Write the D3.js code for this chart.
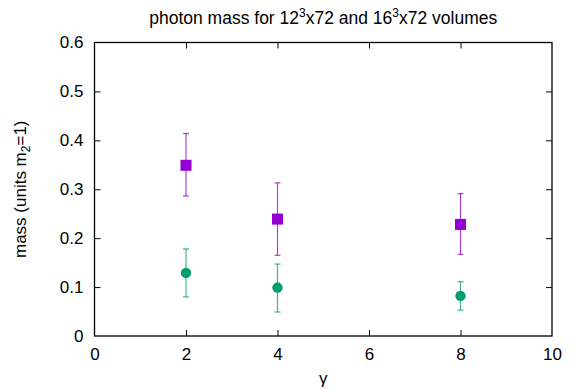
<!DOCTYPE html>
<html>
<head>
<meta charset="utf-8">
<script src="https://cdn.jsdelivr.net/npm/d3@7"></script>
<style>
  body { margin: 0; background: #fff; }
  text { font-family: "Liberation Sans", Arial, sans-serif; fill: #000; }
</style>
</head>
<body>
<div id="chart"></div>
<script>
// data
const gammas = [2, 4, 8];
const mass12 = [0.349, 0.239, 0.228];
const lo12 = [0.286, 0.165, 0.167];
const hi12 = [0.414, 0.313, 0.291];
const mass16 = [0.129, 0.099, 0.082];
const lo16 = [0.080, 0.049, 0.053];
const hi16 = [0.178, 0.147, 0.111];
const xTicks = [0, 2, 4, 6, 8, 10];
const yTicks = [0, 0.1, 0.2, 0.3, 0.4, 0.5, 0.6];

const width = 574, height = 392;
const margin = {top: 42.5, right: 22, bottom: 56, left: 94.5};
const fontSize = 17;

const svg = d3.select("#chart")
  .append("svg")
    .attr("width", width)
    .attr("height", height);

const x = d3.scaleLinear()
  .domain([0, 10])
  .range([margin.left, width - margin.right]);
const y = d3.scaleLinear()
  .domain([0, 0.6])
  .range([height - margin.bottom, margin.top]);

const tickLen = 6;

// ticks drawn inward on all four sides (gnuplot style)
const xAxisB = d3.axisBottom(x).tickValues(xTicks).tickSize(-tickLen).tickPadding(12).tickFormat(d3.format("d"));
const xAxisT = d3.axisTop(x).tickValues(xTicks).tickSize(-tickLen).tickFormat("");
const yAxisL = d3.axisLeft(y).tickValues(yTicks).tickSize(-tickLen).tickPadding(11).tickFormat(d => d === 0 ? "0" : d3.format(".1f")(d));
const yAxisR = d3.axisRight(y).tickValues(yTicks).tickSize(-tickLen).tickFormat("");

const styleAxis = g => {
  g.select(".domain").remove();
  g.selectAll("line").attr("stroke", "#000");
  g.selectAll("text").attr("font-size", fontSize);
};

svg.append("g")
  .attr("transform", `translate(0,${y(0)})`)
  .call(xAxisB).call(styleAxis)
  .selectAll(".tick").filter(d => d === 0 || d === 10).select("line").remove();
svg.append("g")
  .attr("transform", `translate(0,${y(0.6)})`)
  .call(xAxisT).call(styleAxis)
  .selectAll(".tick").filter(d => d === 0 || d === 10).select("line").remove();
svg.append("g")
  .attr("transform", `translate(${x(0)},0)`)
  .call(yAxisL).call(styleAxis)
  .selectAll(".tick").filter(d => d === 0 || d === 0.6).select("line").remove();
svg.append("g")
  .attr("transform", `translate(${x(10)},0)`)
  .call(yAxisR).call(styleAxis)
  .selectAll(".tick").filter(d => d === 0 || d === 0.6).select("line").remove();

// frame
svg.append("rect")
  .attr("x", x(0))
  .attr("y", y(0.6))
  .attr("width", x(10) - x(0))
  .attr("height", y(0) - y(0.6))
  .attr("fill", "none")
  .attr("stroke", "#000")
  .attr("stroke-width", 1.3);

// error bars + points
const drawSeries = (vals, lo, hi, color, shape) => {
  const rows = gammas.map((g, i) => ({g, v: vals[i], lo: lo[i], hi: hi[i]}));
  const grp = svg.append("g");
  const bars = grp.append("g")
    .attr("stroke", color)
    .attr("stroke-width", 1.2)
    .attr("stroke-opacity", 0.75);
  bars.selectAll(".v").data(rows).join("line")
    .attr("x1", d => x(d.g)).attr("x2", d => x(d.g))
    .attr("y1", d => y(d.lo)).attr("y2", d => y(d.hi));
  bars.selectAll(".t").data(rows).join("line")
    .attr("x1", d => x(d.g) - 3).attr("x2", d => x(d.g) + 3)
    .attr("y1", d => y(d.hi)).attr("y2", d => y(d.hi));
  bars.selectAll(".b").data(rows).join("line")
    .attr("x1", d => x(d.g) - 3).attr("x2", d => x(d.g) + 3)
    .attr("y1", d => y(d.lo)).attr("y2", d => y(d.lo));
  if (shape === "square") {
    grp.selectAll("rect").data(rows).join("rect")
      .attr("x", d => x(d.g) - 5.5)
      .attr("y", d => y(d.v) - 5.5)
      .attr("width", 11)
      .attr("height", 11)
      .attr("fill", color);
  } else {
    grp.selectAll("circle").data(rows).join("circle")
      .attr("cx", d => x(d.g))
      .attr("cy", d => y(d.v))
      .attr("r", 5.2)
      .attr("fill", color);
  }
};

drawSeries(mass12, lo12, hi12, "#9400d3", "square");
drawSeries(mass16, lo16, hi16, "#009e73", "circle");

// title
const title = svg.append("text")
  .attr("x", (x(0) + x(10)) / 2)
  .attr("y", 24)
  .attr("text-anchor", "middle")
  .attr("font-size", 17.5);
title.append("tspan").text("photon mass for 12");
title.append("tspan").attr("font-size", 12).attr("dy", -7).text("3");
title.append("tspan").attr("dy", 7).text("x72 and 16");
title.append("tspan").attr("font-size", 12).attr("dy", -7).text("3");
title.append("tspan").attr("dy", 7).text("x72 volumes");

// x label
svg.append("text")
  .attr("x", (x(0) + x(10)) / 2)
  .attr("y", 384)
  .attr("text-anchor", "middle")
  .attr("font-size", fontSize)
  .text("γ");

// y label
const ylab = svg.append("text")
  .attr("transform", `translate(26,${(y(0) + y(0.6)) / 2}) rotate(-90)`)
  .attr("text-anchor", "middle")
  .attr("font-size", fontSize);
ylab.append("tspan").text("mass (units m");
ylab.append("tspan").attr("font-size", 12).attr("dy", 4).text("2");
ylab.append("tspan").attr("dy", -4).text("=1)");
</script>
</body>
</html>
